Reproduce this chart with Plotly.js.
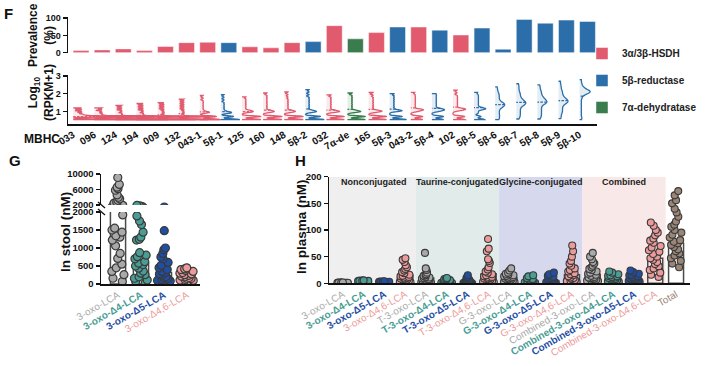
<!DOCTYPE html>
<html><head><meta charset="utf-8">
<script src="https://cdn.plot.ly/plotly-3.0.1.min.js"></script>
<style>body{margin:0;background:#fff}#plot{width:724px;height:366px}</style>
</head><body><div id="plot"></div>
<script>
// ---------- Panel F data ----------
const mbhc = ['033','096','124','194','009','132','043-1','5β-1','125','160','148','5β-2','032','7α-de','165','5β-3','043-2','5β-4','102','5β-5','5β-6','5β-7','5β-8','5β-9','5β-10'];
const enzymeOf = [0,0,0,0,0,0,0,1,0,0,0,1,0,2,0,1,0,1,0,1,1,1,1,1,1];
const enzymes = ['3α/3β-HSDH','5β-reductase','7α-dehydratase'];
const prevalence = [6,8,11,6,18,29,30,29,17,14,29,32,78,40,58,74,74,65,51,71,10,96,85,94,90];
// log10(RPKM+1) samples per MBHC
const r033 = [1.2,1.1,1.0,0.92,0.85,0.8,0.76,0.72,0.72,0.72,0.72,0.72,0.72,0.72,0.72,0.55,0.55,0.55,0.55,0.55,0.55,0.55,0.55,0.55,0.55];
const r096 = [1.2,1.12,1.02,0.95,0.88,0.82,0.77,0.72,0.72,0.72,0.72,0.72,0.72,0.72,0.72,0.55,0.55,0.55,0.55,0.55,0.55,0.55,0.55,0.55,0.55];
const r124 = [1.35,1.25,1.15,1.05,0.98,0.9,0.84,0.78,0.72,0.72,0.72,0.72,0.72,0.72,0.72,0.72,0.55,0.55,0.55,0.55,0.55,0.55,0.55,0.55,0.55,0.55];
const r194 = [1.45,1.35,1.25,1.15,1.05,0.98,0.9,0.84,0.78,0.72,0.72,0.72,0.72,0.72,0.72,0.72,0.72,0.55,0.55,0.55,0.55,0.55,0.55,0.55,0.55,0.55];
const r009 = [1.5,1.4,1.3,1.2,1.1,1.02,0.95,0.88,0.8,0.72,0.72,0.72,0.72,0.72,0.72,0.72,0.55,0.55,0.55,0.55,0.55,0.55,0.55,0.55];
const r132 = [1.7,1.6,1.5,1.4,1.3,1.2,1.1,1.02,0.95,0.88,0.8,0.72,0.72,0.72,0.72,0.72,0.72,0.72,0.55,0.55,0.55,0.55,0.55,0.55,0.55,0.55];
const r043a = [1.9,1.75,1.6,1.5,1.4,1.3,1.2,1.1,1.02,0.96,0.96,0.92,0.72,0.72,0.72,0.72,0.72,0.55,0.55,0.55,0.55,0.55,0.55];
const r5b1 = [1.95,1.8,1.65,1.5,1.4,1.3,1.2,1.1,1.02,0.96,0.96,0.92,0.9,0.72,0.72,0.72,0.72,0.55,0.55,0.55,0.55,0.55,0.55];
const r125 = [1.82,1.7,1.6,1.5,1.4,1.3,1.2,1.1,1.05,1.0,1.0,0.95,0.72,0.72,0.72,0.72,0.72,0.55,0.55,0.55,0.55,0.55];
const r160 = [2.04,1.9,1.8,1.7,1.6,1.5,1.4,1.3,1.2,1.1,1.05,1.0,1.0,0.95,0.72,0.72,0.72,0.72,0.72,0.55,0.55,0.55,0.55,0.55];
const r148 = [2.1,1.95,1.82,1.7,1.6,1.5,1.4,1.3,1.2,1.1,1.05,1.0,1.0,0.95,0.72,0.72,0.72,0.72,0.72,0.55,0.55,0.55,0.55,0.55];
const r5b2 = [2.23,2.1,1.95,1.8,1.7,1.6,1.5,1.4,1.3,1.2,1.1,1.05,1.0,1.0,0.95,0.72,0.72,0.72,0.72,0.55,0.55,0.55,0.55,0.55];
const r032 = [1.93,1.8,1.7,1.6,1.5,1.4,1.3,1.2,1.1,1.05,1.0,1.0,0.95,0.72,0.72,0.72,0.72,0.55,0.55,0.55,0.55];
const r7ade = [2.04,1.9,1.8,1.7,1.6,1.5,1.4,1.3,1.2,1.1,1.05,1.0,1.0,0.95,0.72,0.72,0.72,0.72,0.55,0.55,0.55,0.55];
const r165 = [2.07,1.92,1.8,1.7,1.6,1.5,1.4,1.3,1.2,1.1,1.05,1.02,1.0,0.95,0.72,0.72,0.72,0.72,0.55,0.55,0.55,0.55];
const r5b3 = [2.0,1.88,1.78,1.68,1.58,1.48,1.38,1.28,1.18,1.1,1.05,1.05,1.0,0.72,0.72,0.72,0.55,0.55,0.55,0.55];
const r043b = [2.08,1.95,1.85,1.75,1.65,1.55,1.45,1.35,1.25,1.15,1.1,1.1,1.05,1.0,0.72,0.72,0.72,0.55,0.55,0.55];
const r5b4 = [2.0,1.9,1.8,1.7,1.6,1.5,1.4,1.3,1.2,1.15,1.1,1.1,1.05,1.0,0.72,0.72,0.72,0.55,0.55,0.55];
const r102 = [2.2,2.05,1.9,1.8,1.7,1.6,1.5,1.4,1.3,1.2,1.15,1.13,1.1,1.05,0.72,0.72,0.72,0.55,0.55,0.55];
const r5b5 = [2.08,1.95,1.85,1.75,1.65,1.55,1.45,1.35,1.25,1.2,1.15,1.15,1.1,1.0,0.9,0.72,0.72,0.55,0.55,0.55];
const r5b6 = [2.38,2.2,2.05,1.95,1.85,1.75,1.65,1.55,1.5,1.45,1.4,1.38,1.35,1.3,1.25,1.2,1.1,1.0,0.9,0.8,0.72,0.6,0.55];
const r5b7 = [2.56,2.4,2.25,2.1,2.0,1.9,1.8,1.72,1.65,1.6,1.55,1.5,1.48,1.45,1.4,1.35,1.3,1.2,1.1,1.0,0.9,0.8,0.7,0.58];
const r5b8 = [2.5,2.35,2.2,2.1,2.0,1.9,1.82,1.75,1.7,1.65,1.6,1.55,1.52,1.5,1.45,1.4,1.3,1.2,1.1,1.0,0.9,0.8,0.7,0.58];
const r5b9 = [2.7,2.5,2.35,2.2,2.1,2.0,1.9,1.82,1.75,1.7,1.65,1.6,1.58,1.55,1.5,1.45,1.4,1.3,1.2,1.1,1.0,0.9,0.75,0.6];
const r5b10 = [2.79,2.6,2.45,2.35,2.28,2.22,2.18,2.15,2.12,2.1,2.08,2.05,2.0,1.95,1.85,1.7,1.5,1.3,1.1,0.9,0.7,0.55];
const rpkmLog = [r033,r096,r124,r194,r009,r132,r043a,r5b1,r125,r160,r148,r5b2,r032,r7ade,r165,r5b3,r043b,r5b4,r102,r5b5,r5b6,r5b7,r5b8,r5b9,r5b10];

// ---------- Panel G data ----------
const stoolCats = ['3-oxo-LCA','3-oxo-Δ4-LCA','3-oxo-Δ5-LCA','3-oxo-Δ4,6-LCA'];
const stoolLCA = [9100,7300,6600,6200,5800,4600,4000,3600,3200,2800,2500,2300,1920,1550,1500,1440,1340,1300,1220,1060,850,710,550,450,350,260,160,70];
const stoolD4 = [1890,1750,1650,1440,1300,1240,1220,870,800,760,700,620,580,540,500,440,360,300,260,200,160,110,70,30];
const stoolD5 = [1480,1000,950,850,750,700,600,520,450,400,350,320,280,250,200,180,150,120,100,80,60,40];
const stoolD46 = [450,420,400,380,350,320,300,280,260,240,220,200,180,160,150,130,110,100,80,60];
const stoolValues = [stoolLCA,stoolD4,stoolD5,stoolD46];
const stoolMean = [2600,580,320,230];

// ---------- Panel H data ----------
const plasmaCats = ['3-oxo-LCA','3-oxo-Δ4-LCA','3-oxo-Δ5-LCA','3-oxo-Δ4,6-LCA',
  'T-3-oxo-LCA','T-3-oxo-Δ4-LCA','T-3-oxo-Δ5-LCA','T-3-oxo-Δ4,6-LCA',
  'G-3-oxo-LCA','G-3-oxo-Δ4-LCA','G-3-oxo-Δ5-LCA','G-3-oxo-Δ4,6-LCA',
  'Combined-3-oxo-LCA','Combined-3-oxo-Δ4-LCA','Combined-3-oxo-Δ5-LCA','Combined-3-oxo-Δ4,6-LCA','Total'];
const pLCA = [0.5,0.8,1,1.2,0.3,0.6,1.5,0.9,0.4,1.1,0.7,0.2,1.3,0.5,0.8,1.0,0.6,1.4,0.9,0.3];
const pD4 = [3,4,5,2.5,3.5,4.5,3,2,5.5,4,3,3.8,4.2,2.8,3.2,4.8,3.6,2.2,5,3.4];
const pD5 = [1.5,2,2.5,3,1,2.2,2.8,1.8,3.5,2.4,1.2,2.6,3.2,2,1.6,2.9,2.1,1.4,3.8,2.3];
const pD46 = [47,44,40,34,30,27,24,21,19,16,14,12,10,9,8,7,6,5,4,3,2,1,0.5,11,13];
const pTLCA = [57,28,25,20,17,14,12,10,9,8,7,6,5,5,4,3,3,2,2,1,1,0.5,15,11];
const pTD4 = [10,9,8,6,5,4,3,3,2,2,1,1,0.5,0.5,1,2,3,7,4,1.5];
const pTD5 = [15,12,10,7,5,4,3,2,2,1,1,0.5,0.5,1,2,3,1.5,0.8,6,2.5];
const pTD46 = [83,65,60,45,42,38,30,26,22,20,17,15,12,10,9,8,7,6,5,4,3,2,1,0.5,13,11];
const pGLCA = [28,24,20,17,15,13,12,10,9,8,7,6,5,4,3,2,2,1,11,14,18];
const pGD4 = [15,13,10,8,6,5,4,3,2,2,1,1,0.5,7,3,4];
const pGD5 = [20,17,14,10,8,6,5,4,3,2,1,1,0.5,3,7,12];
const pGD46 = [71,60,50,42,37,33,28,25,22,19,17,15,13,11,10,8,6,5,4,3,2,1];
const pCLCA = [57,50,45,40,37,33,30,27,25,22,20,18,16,14,12,11,10,9,8,7,6,5,4,3,2];
const pCD4 = [22,20,17,15,13,12,10,9,8,7,6,5,4,3,2,1,11,14];
const pCD5 = [24,21,18,15,13,11,10,9,8,7,6,5,4,3,2,1,12,16];
const pCD46 = [114,108,100,95,90,84,80,76,70,67,62,59,55,50,47,44,40,36,32,28,25,20,16,12];
const pTotal = [173,165,156,150,140,133,125,116,110,106,100,95,91,86,81,78,75,72,68,64,60,56,52,47,42,37,30];
const plasmaValues = [pLCA,pD4,pD5,pD46,pTLCA,pTD4,pTD5,pTD46,pGLCA,pGD4,pGD5,pGD46,pCLCA,pCD4,pCD5,pCD46,pTotal];
const plasmaMean = [0.8,3.5,2.3,15,10,3.5,3.5,18,10,4,5,16,17,8,8,47,75];
const plasmaGroups = ['Nonconjugated','Taurine-conjugated','Glycine-conjugated','Combined'];

// ---------- styles ----------
const W = 724, H = 366;
const px = v => v / W, py = v => 1 - v / H;
const FONT = 'Arial, "Liberation Sans", sans-serif';
const enzColor = ['#e15a6e','#2c6ea9','#3a7c4e'];
const enzFill = ['rgba(225,90,110,0.13)','rgba(44,110,169,0.13)','rgba(58,124,78,0.13)'];
const violinExtent = [4,3.5,3,2.8,2.4,2,0.95,0.9,0.9,0.9,0.9,0.9,0.85,0.85,0.85,0.8,0.6,0.6,0.6,0.55,0.45,0.45,0.45,0.45,0.5];
const violinBw = [0.025,0.025,0.025,0.025,0.025,0.025,0.04,0.04,0.04,0.04,0.04,0.04,0.04,0.04,0.04,0.04,0.045,0.045,0.045,0.05,0.1,0.1,0.1,0.1,0.09];
const kindColor = ['#a9a9a9','#4a9d95','#1f4ea3','#ec9a9a'];
const kindBold = [false,true,true,false];
const totalColor = '#9b8576';
const groupBg = ['#efefef','#e1ebea','#d6d9ee','#f8e8e8'];
const axBase = {showline:true, linecolor:'#111', linewidth:1.5, ticks:'outside', ticklen:4, tickwidth:1.5, tickcolor:'#111', showgrid:false, zeroline:false, tickfont:{family:FONT, size:9.5, color:'#111', weight:'bold'}};

const traces = [];
// F bars, one trace per enzyme (for legend)
enzymes.forEach((e, k) => {
  traces.push({type:'bar', name:'<b>'+e+'</b>', x:mbhc, y:prevalence.map((v,i)=>enzymeOf[i]===k?v:null),
    xaxis:'x', yaxis:'y', width:0.75, marker:{color:enzColor[k], line:{color:'rgba(255,255,255,0.45)', width:1}},
    legendgroup:'g'+k, hoverinfo:'skip'});
});
// F violins
mbhc.forEach((c, i) => {
  const k = enzymeOf[i];
  traces.push({type:'violin', name:'v'+i, scalegroup:'v'+i, x0:c, y:rpkmLog[i], xaxis:'x2', yaxis:'y2', side:'positive', width:violinExtent[i]*2,
    bandwidth:violinBw[i], spanmode:'hard', points:false, line:{color:enzColor[k], width:1.3}, fillcolor:enzFill[k],
    meanline:{visible:true, color:enzColor[k], width:1.3}, box:{visible:false}, showlegend:false, hoverinfo:'skip'});
});
// G bars + points (lower and upper segments)
['y3','y4'].forEach(ya => {
  traces.push({type:'bar', x:stoolCats, y:stoolMean, xaxis:'x3', yaxis:ya, width:0.66,
    marker:{color:'rgba(255,255,255,0)', line:{color:'#4a4a4a', width:1.5}}, showlegend:false, hoverinfo:'skip'});
  stoolCats.forEach((c, i) => {
    traces.push({type:'box', x:stoolValues[i].map(()=>c), y:stoolValues[i], xaxis:'x3', yaxis:ya, boxpoints:'all', jitter:1, pointpos:0,
      width:0.72, line:{width:0, color:'rgba(0,0,0,0)'}, fillcolor:'rgba(0,0,0,0)',
      marker:{size:8, color:kindColor[i], line:{color:'#3a3a3a', width:1.2}}, showlegend:false, hoverinfo:'skip'});
  });
});
// H bars + points
traces.push({type:'bar', x:plasmaCats, y:plasmaMean, xaxis:'x4', yaxis:'y5', width:0.72,
  marker:{color:'rgba(255,255,255,0)', line:{color:'#4a4a4a', width:1.5}}, showlegend:false, hoverinfo:'skip'});
plasmaCats.forEach((c, i) => {
  const col = i === 16 ? totalColor : kindColor[i % 4];
  traces.push({type:'box', x:plasmaValues[i].map(()=>c), y:plasmaValues[i], xaxis:'x4', yaxis:'y5', boxpoints:'all', jitter:0.9, pointpos:0,
    width:0.72, line:{width:0, color:'rgba(0,0,0,0)'}, fillcolor:'rgba(0,0,0,0)',
    marker:{size:7, color:col, line:{color:'#3a3a3a', width:1.1}}, showlegend:false, hoverinfo:'skip'});
});

const labelHtml = (c, i, isTotal) => {
  const col = isTotal ? totalColor : kindColor[i % 4];
  const t = (!isTotal && kindBold[i % 4]) ? '<b>'+c+'</b>' : c;
  return '<span style="color:'+col+'">'+t+'</span>';
};

const shapes = [];
plasmaGroups.forEach((g, k) => {
  shapes.push({type:'rect', xref:'x4', yref:'y5', x0:k===0?-0.67:k*4-0.5, x1:k*4+3.5, y0:0, y1:200, fillcolor:groupBg[k], line:{width:0}, layer:'below'});
});
// broken-axis marks on G
shapes.push({type:'line', xref:'paper', yref:'paper', x0:px(98), y0:py(202), x1:px(105), y1:py(208), line:{color:'#111', width:1.3}});
shapes.push({type:'line', xref:'paper', yref:'paper', x0:px(98), y0:py(209), x1:px(105), y1:py(215), line:{color:'#111', width:1.3}});

const ann = [];
const A = (text, x, y, size, extra) => ann.push(Object.assign({text, x:px(x), y:py(y), xref:'paper', yref:'paper', xanchor:'center', yanchor:'middle', showarrow:false, font:{family:FONT, size, color:'#111', weight:'bold'}}, extra||{}));
A('F', 2, 13, 15, {xanchor:'left'});
A('G', 7, 160, 15, {xanchor:'left'});
A('H', 293, 160, 15, {xanchor:'left'});
A('Prevalence<br>(%)', 41, 35, 12, {textangle:-90});
A('Log<sub>10</sub><br>(RPKM+1)', 41, 93, 12, {textangle:-90});
A('MBHC', 22, 139, 12, {xanchor:'left'});
A('In stool (nM)', 65, 232, 13.5, {textangle:-90});
A('In plasma (nM)', 301, 227, 13.5, {textangle:-90});
plasmaGroups.forEach((g, k) => {
  ann.push({text:g, x:k*4+1.5, y:191, xref:'x4', yref:'y5', showarrow:false, font:{family:FONT, size:9, color:'#222', weight:'bold'}});
});

const layout = {
  width:W, height:H, margin:{l:0,r:0,t:0,b:0}, paper_bgcolor:'#fff', plot_bgcolor:'rgba(0,0,0,0)',
  font:{family:FONT, color:'#111'}, barmode:'overlay', boxmode:'overlay', violinmode:'overlay',
  showlegend:true,
  legend:{x:px(582), y:py(39), xanchor:'left', yanchor:'top', font:{family:FONT, size:10, color:'#222'}, tracegroupgap:8, bgcolor:'rgba(0,0,0,0)', traceorder:'grouped'},
  xaxis:{domain:[px(68),px(597)], range:[-0.62,24.45], type:'category', visible:false, anchor:'y', fixedrange:true},
  yaxis:Object.assign({}, axBase, {domain:[py(52.7),py(17)], range:[0,103], tickvals:[0,50,100], anchor:'x', tickfont:{family:FONT,size:9,color:'#111',weight:'bold'}}),
  xaxis2:Object.assign({}, axBase, {domain:[px(68),px(597)], range:[-0.245,24.825], type:'category', anchor:'y2', ticks:'', tickangle:-30, tickfont:{family:FONT,size:10,color:'#111',weight:'bold'}}),
  yaxis2:Object.assign({}, axBase, {domain:[py(124),py(75)], range:[0.3,3.05], tickvals:[1,2,3], anchor:'x2', tickfont:{family:FONT,size:9,color:'#111',weight:'bold'}}),
  xaxis3:Object.assign({}, axBase, {domain:[px(101),px(200)], range:[-0.74,3.57], type:'category', anchor:'y3', ticks:'', tickangle:-30,
    tickmode:'array', tickvals:stoolCats, ticktext:stoolCats.map((c,i)=>labelHtml(c,i,false)), tickfont:{family:FONT,size:10,weight:'normal'}}),
  yaxis3:Object.assign({}, axBase, {domain:[py(284),py(212)], range:[0,2000], tickvals:[0,500,1000,1500,2000], tickformat:'d', anchor:'x3'}),
  yaxis4:Object.assign({}, axBase, {domain:[py(205),py(174)], range:[2000,10000], tickvals:[2000,6000,10000], tickformat:'d', anchor:'x3'}),
  xaxis4:Object.assign({}, axBase, {domain:[px(329),px(690)], range:[-0.67,16.67], type:'category', anchor:'y5', ticks:'', tickangle:-30,
    tickmode:'array', tickvals:plasmaCats, ticktext:plasmaCats.map((c,i)=>labelHtml(c,i,i===16)), tickfont:{family:FONT,size:10,weight:'normal'}}),
  yaxis5:Object.assign({}, axBase, {domain:[py(283.3),py(176.7)], range:[0,200], tickvals:[0,50,100,150,200], anchor:'x4'}),
  shapes, annotations:ann
};
Plotly.newPlot('plot', traces, layout, {staticPlot:true, displayModeBar:false});
</script></body></html>
